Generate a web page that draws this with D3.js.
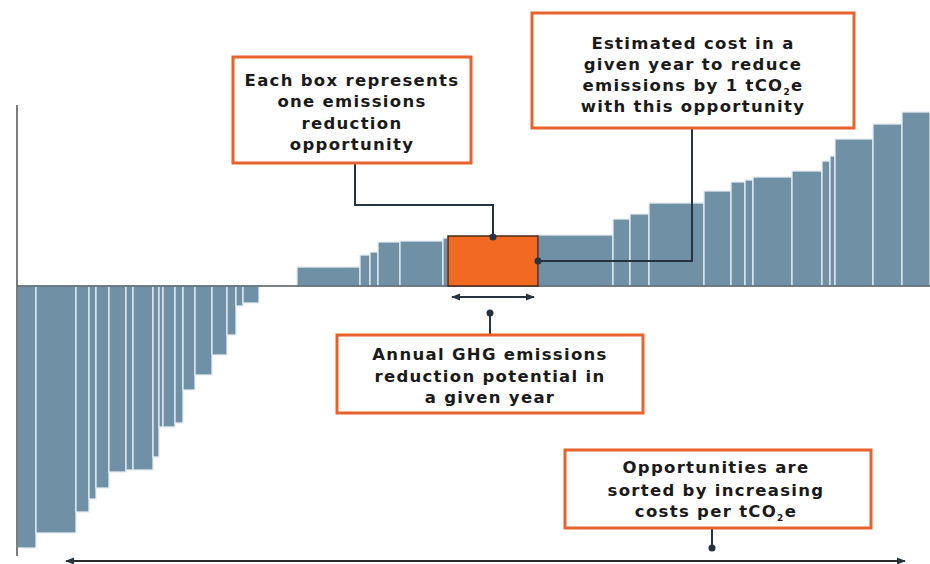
<!DOCTYPE html>
<html>
<head>
<meta charset="utf-8">
<script src="https://cdn.jsdelivr.net/npm/d3@7"></script>
<style>
  html, body { margin: 0; padding: 0; background: #ffffff; }
  svg { display: block; }
  .note { font-family: "DejaVu Sans", sans-serif; font-weight: bold; font-size: 16.5px; letter-spacing: 1.3px; fill: #1a1a1a; }
</style>
</head>
<body>
<svg id="chart" width="930" height="564"></svg>
<script>
// ---- Data: opportunities sorted by increasing cost ----
// potential = annual GHG reduction potential (width units), cost = cost per tCO2e (height units)
const potential = [19, 40, 13, 7, 13, 17, 7, 20, 6, 4, 12, 8, 12, 17, 15, 9, 7, 16,
                   38,
                   63, 10, 8, 22, 43, 5, 90, 75, 17, 19, 55, 27, 14, 8, 39, 30, 8, 5, 38, 29, 28];
const cost = [-262, -247, -226, -213, -202, -186, -184, -184, -171, -141, -141, -137, -104, -89, -69, -49, -20, -17,
              0,
              19, 31, 34, 44, 45, 48, 50, 51, 67, 72, 83, 95, 104, 106, 109, 115, 125, 130, 147, 162, 174];
const opportunities = potential.map((_, i) => "Opportunity " + (i + 1));
const highlightIndex = 25; // the example opportunity box

// Annotation texts
const note1 = ["Each box represents", "one emissions", "reduction", "opportunity"];
const note2 = ["Estimated cost in a", "given year to reduce", ["emissions by 1 tCO", "2", "e"], "with this opportunity"];
const note3 = ["Annual GHG emissions", "reduction potential in", "a given year"];
const note4 = ["Opportunities are", "sorted by increasing", ["costs per tCO", "2", "e"]];

// ---- Build ----
const svg = d3.select("#chart");
const cum = [0];
potential.forEach((p, i) => cum.push(cum[i] + p));
const bars = potential.map((p, i) => ({ name: opportunities[i], x0: cum[i], x1: cum[i + 1], cost: cost[i], hi: i === highlightIndex }));

const x = d3.scaleLinear().domain([0, cum[cum.length - 1]]).range([17, 930]);
const y = d3.scaleLinear().domain([-270, 181]).range([556, 105]);

const barColor = "#7090a6";
const orange = "#f26a21";
const dark = "#263340";

// bars
svg.append("g").selectAll("rect")
  .data(bars.filter(d => d.cost !== 0 && !d.hi))
  .join("rect")
  .attr("x", d => x(d.x0))
  .attr("width", d => x(d.x1) - x(d.x0))
  .attr("y", d => y(Math.max(0, d.cost)))
  .attr("height", d => Math.abs(y(d.cost) - y(0)))
  .attr("fill", barColor)
  .attr("stroke", "#e4edf2")
  .attr("stroke-width", 1.3);

// y axis line
svg.append("line")
  .attr("x1", x(0)).attr("x2", x(0))
  .attr("y1", y(181)).attr("y2", y(-270))
  .attr("stroke", "#7c7c7c").attr("stroke-width", 2);

// baseline
svg.append("line")
  .attr("x1", x(0)).attr("x2", 930)
  .attr("y1", y(0)).attr("y2", y(0))
  .attr("stroke", "#4d5863").attr("stroke-width", 1.3);

// highlighted box
const hb = bars[highlightIndex];
svg.append("rect")
  .attr("x", x(hb.x0)).attr("width", x(hb.x1) - x(hb.x0))
  .attr("y", y(hb.cost)).attr("height", y(0) - y(hb.cost))
  .attr("fill", orange).attr("stroke", "#4a2a18").attr("stroke-width", 1.5);

// markers
const defs = svg.append("defs");
defs.append("marker").attr("id", "arrowEnd").attr("viewBox", "0 0 10 10")
  .attr("refX", 9).attr("refY", 5).attr("markerWidth", 5).attr("markerHeight", 5)
  .attr("orient", "auto-start-reverse").attr("markerUnits", "strokeWidth")
  .append("path").attr("d", "M0,1 L10,5 L0,9 Z").attr("fill", dark);

// potential double arrow under highlighted box
svg.append("line")
  .attr("x1", x(hb.x0) + 4).attr("x2", x(hb.x1) - 4)
  .attr("y1", 297).attr("y2", 297)
  .attr("stroke", dark).attr("stroke-width", 1.8)
  .attr("marker-start", "url(#arrowEnd)").attr("marker-end", "url(#arrowEnd)");

// bottom long arrow
svg.append("line")
  .attr("x1", 66).attr("x2", 905)
  .attr("y1", 561).attr("y2", 561)
  .attr("stroke", "#2b2b2b").attr("stroke-width", 1.8)
  .attr("marker-start", "url(#arrowEnd)").attr("marker-end", "url(#arrowEnd)");

// connectors
const hbCx = (x(hb.x0) + x(hb.x1)) / 2;
const hbMidY = (y(hb.cost) + y(0)) / 2;
const line = d3.line();
function connector(points) {
  svg.append("path").attr("d", line(points))
    .attr("fill", "none").attr("stroke", dark).attr("stroke-width", 2);
  const end = points[points.length - 1];
  svg.append("circle").attr("cx", end[0]).attr("cy", end[1]).attr("r", 3.5).attr("fill", dark);
}
connector([[355, 163], [355, 205], [hbCx, 205], [hbCx, y(hb.cost) + 1]]);
connector([[692, 128], [692, hbMidY], [x(hb.x1), hbMidY]]);
connector([[490, 335], [490, 313]]);
connector([[712, 528], [712, 548]]);

// annotation boxes
function noteBox(bx, by, bw, bh, cx, baselines, lines) {
  svg.append("rect").attr("x", bx).attr("y", by).attr("width", bw).attr("height", bh)
    .attr("fill", "#ffffff").attr("stroke", "#e8632b").attr("stroke-width", 3);
  lines.forEach((ln, i) => {
    const t = svg.append("text").attr("class", "note")
      .attr("x", cx).attr("y", baselines[i]).attr("text-anchor", "middle");
    if (Array.isArray(ln)) {
      t.append("tspan").text(ln[0]);
      t.append("tspan").attr("font-size", "9px").attr("dy", 4).text(ln[1]);
      t.append("tspan").attr("dy", -4).text(ln[2]);
    } else {
      t.text(ln);
    }
  });
}
noteBox(233, 57, 238, 106, 352, [86, 107, 129, 150], note1);
noteBox(532, 13, 322, 115, 693, [49, 70, 91, 112], note2);
noteBox(337, 335, 306, 78, 490, [360, 382, 403], note3);
noteBox(565, 450, 306, 78, 716, [473, 496, 517], note4);
</script>
</body>
</html>
